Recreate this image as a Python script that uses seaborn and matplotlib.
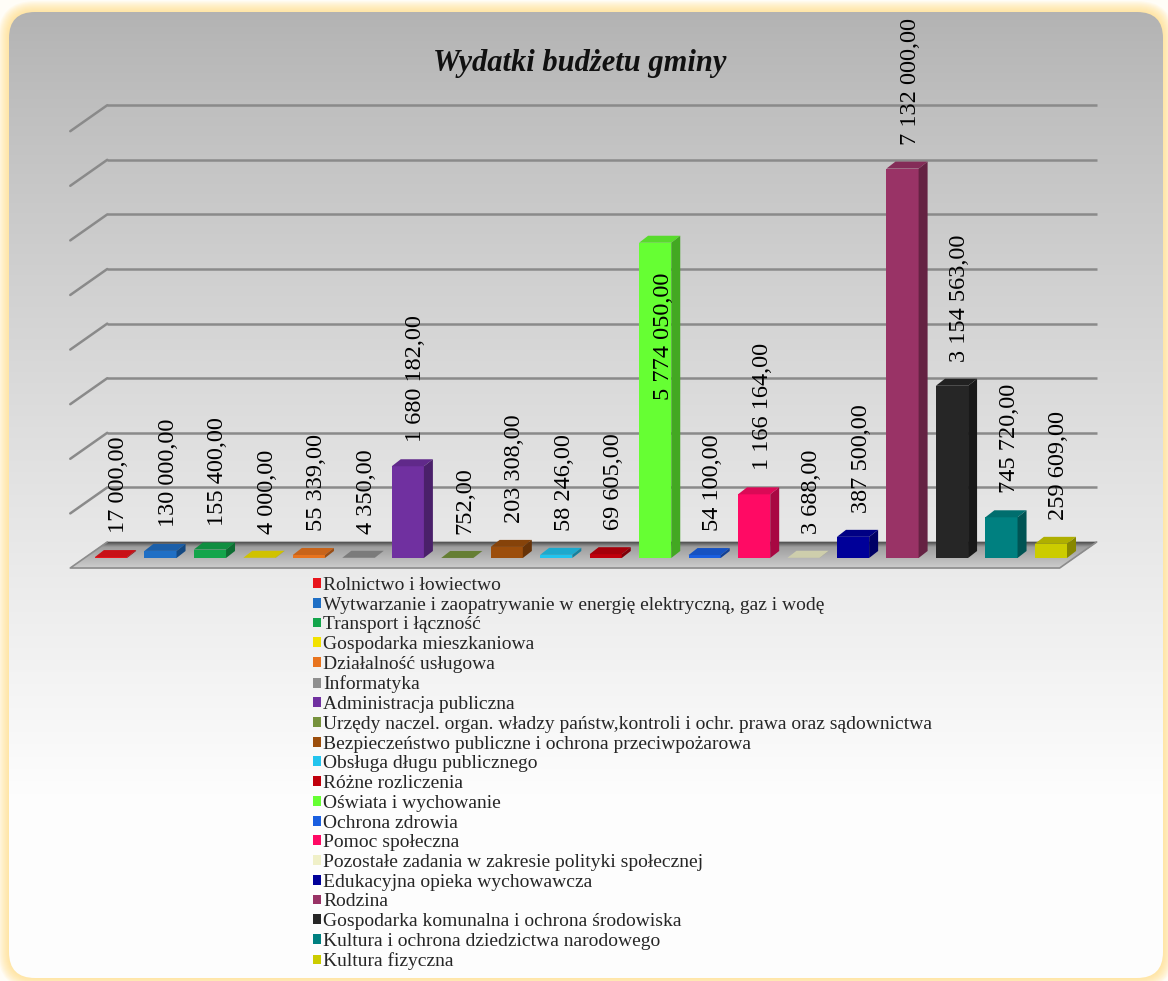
import numpy as np
import pandas as pd
import matplotlib
matplotlib.use("Agg")
import matplotlib.pyplot as plt
from matplotlib.patches import Polygon, FancyBboxPatch
from matplotlib.colors import to_rgb
import seaborn as sns

# --- data -------------------------------------------------------------
categories = [
    "Rolnictwo i łowiectwo",
    "Wytwarzanie i zaopatrywanie w energię elektryczną, gaz i wodę",
    "Transport i łączność",
    "Gospodarka mieszkaniowa",
    "Działalność usługowa",
    "Informatyka",
    "Administracja publiczna",
    "Urzędy naczel. organ. władzy państw,kontroli i ochr. prawa oraz sądownictwa",
    "Bezpieczeństwo publiczne i ochrona przeciwpożarowa",
    "Obsługa długu publicznego",
    "Różne rozliczenia",
    "Oświata i wychowanie",
    "Ochrona zdrowia",
    "Pomoc społeczna",
    "Pozostałe zadania w zakresie polityki społecznej",
    "Edukacyjna opieka wychowawcza",
    "Rodzina",
    "Gospodarka komunalna i ochrona środowiska",
    "Kultura i ochrona dziedzictwa narodowego",
    "Kultura fizyczna",
]
values = [
    17000, 130000, 155400, 4000, 55339, 4350, 1680182, 752, 203308, 58246,
    69605, 5774050, 54100, 1166164, 3688, 387500, 7132000, 3154563, 745720, 259609,
]
colors = [
    "#e8141b", "#1f6fc5", "#13a54b", "#f2e200", "#e8741e",
    "#8f8f8f", "#7030a0", "#76923c", "#9c4e0c", "#22c4ee",
    "#c0000c", "#66ff33", "#1a5fe0", "#ff0a64", "#f0f0c8",
    "#000099", "#993366", "#262626", "#008080", "#cccc00",
]
title = "Wydatki budżetu gminy"
grid_steps = [1e6 * k for k in range(1, 9)]
inside_label = "Oświata i wychowanie"

SERIF = ["Liberation Serif", "DejaVu Serif"]


def fmt_pl(v):
    return f"{v:,.2f}".replace(",", " ").replace(".", ",")


# --- figure geometry (pixels) -----------------------------------------
W, H, DPI = 1168, 981, 100
x0_px, step = 111, 49.47      # first bar centre, bar spacing
base_px, ppm = 558, 54.6      # bar base line, pixels per million
ymax = 8.5e6

sns.set_theme(style="white")
plt.rcParams["font.family"] = SERIF

fig = plt.figure(figsize=(W / DPI, H / DPI), dpi=DPI)
fig.patch.set_facecolor("#fffdf7")

# background card with glow and vertical gradient
bg = fig.add_axes([0, 0, 1, 1], zorder=-10)
bg.set_xlim(0, W)
bg.set_ylim(H, 0)
bg.set_axis_off()
cx0, cy0, cx1, cy1 = 9, 12, 1163, 978
for g in range(11, 0, -1):
    bg.add_patch(FancyBboxPatch((cx0 - g, cy0 - g), cx1 - cx0 + 2 * g, cy1 - cy0 + 2 * g,
                                boxstyle=f"round,pad=0,rounding_size={26 + g}",
                                fc="#ffdc78", ec="none", alpha=0.08, zorder=1))
card = FancyBboxPatch((cx0, cy0), cx1 - cx0, cy1 - cy0,
                      boxstyle="round,pad=0,rounding_size=26", fc="none", ec="none")
bg.add_patch(card)
yy = np.arange(H)
t = np.clip((yy - cy0) / 790, 0, 1)
v = 0.70 + 0.295 * t ** 0.85
grad = np.repeat(v[:, None], 3, axis=1)[:, None, :]
im = bg.imshow(grad, extent=(0, W, H, 0), aspect="auto", interpolation="bilinear",
               zorder=3)
im.set_clip_path(card)
bg.set_xlim(0, W)
bg.set_ylim(H, 0)

# main axes = front plane of the bars
ax = fig.add_axes([(x0_px - step / 2) / W, (H - base_px) / H,
                   20 * step / W, ymax / 1e6 * ppm / H])
ax.patch.set_alpha(0)

df = pd.DataFrame({"kategoria": categories, "kwota": values})
sns.barplot(data=df, x="kategoria", y="kwota", hue="kategoria",
            palette=dict(zip(categories, colors)), width=0.65, saturation=1,
            legend=True, ax=ax, zorder=4, edgecolor="none", linewidth=0)
ax.set_xlim(-0.5, 19.5)
ax.set_ylim(0, ymax)
ax.set_axis_off()
bars = sorted([p for cont in ax.containers for p in cont.patches],
              key=lambda p: p.get_x())


def px(dx, dy):
    # pixel offset -> data offset
    return dx / step, dy / ppm * 1e6


def shade(c, f):
    r, g, b = to_rgb(c)
    return (r * f, g * f, b * f)


back = px(21, 16)
front = px(-16, -10)
xl, xr = -0.5, 19.5

# back wall gridlines and left wall diagonals
for yv in grid_steps:
    ax.plot([xl + back[0], xr + back[0]], [yv + back[1]] * 2, color="#8a8a8a",
            lw=1.8, zorder=1, clip_on=False, solid_capstyle="butt")
    ax.plot([xl + front[0], xl + back[0]], [yv + front[1], yv + back[1]],
            color="#8a8a8a", lw=1.8, zorder=1, clip_on=False)

# floor drawn as bands from back (dark) to front (light)
n_bands = 26
fvals = np.linspace(0, 1, n_bands + 1)
for f0, f1 in zip(fvals[:-1], fvals[1:]):
    fm = (f0 + f1) / 2
    if fm < 0.2:
        c = 0.28 + (0.62 - 0.28) * fm / 0.2
    else:
        c = 0.62 + (0.80 - 0.62) * (fm - 0.2) / 0.8
    o0 = (back[0] + (front[0] - back[0]) * f0, back[1] + (front[1] - back[1]) * f0)
    o1 = (back[0] + (front[0] - back[0]) * f1, back[1] + (front[1] - back[1]) * f1)
    ax.add_patch(Polygon([(xl + o0[0], o0[1]), (xr + o0[0], o0[1]),
                          (xr + o1[0], o1[1]), (xl + o1[0], o1[1])],
                         closed=True, fc=(c, c, c), ec=(c, c, c), lw=0.5,
                         zorder=2, clip_on=False))
ax.plot([xl + back[0], xl + front[0], xr + front[0], xr + back[0]],
        [back[1], front[1], front[1], back[1]], color="#8c8c8c", lw=1.2,
        zorder=2.5, clip_on=False)

# 3D faces of the bars
ddx, ddy = px(9, 7)
for bar in bars:
    x0 = bar.get_x()
    x1 = x0 + bar.get_width()
    h = bar.get_height()
    fc = bar.get_facecolor()
    bar.set_zorder(4)
    bar.set_clip_on(False)
    ax.add_patch(Polygon([(x0, h), (x1, h), (x1 + ddx, h + ddy), (x0 + ddx, h + ddy)],
                         closed=True, fc=shade(fc, 0.86), ec="none", zorder=4,
                         clip_on=False))
    ax.add_patch(Polygon([(x1, 0), (x1 + ddx, ddy), (x1 + ddx, h + ddy), (x1, h)],
                         closed=True, fc=shade(fc, 0.66), ec="none", zorder=4,
                         clip_on=False))

# value labels
lab_dx, lab_gap = px(8, 24)
_, inside_gap = px(0, 30)
for bar, cat, val in zip(bars, categories, values):
    xc = bar.get_x() + bar.get_width() / 2 + lab_dx
    if cat == inside_label:
        ax.text(xc, val - inside_gap, fmt_pl(val), rotation=90, ha="center",
                va="top", fontsize=17.5, family=SERIF, color="black", zorder=6,
                clip_on=False)
    else:
        ax.text(xc, val + lab_gap, fmt_pl(val), rotation=90, ha="center",
                va="bottom", fontsize=17.5, family=SERIF, color="black", zorder=6,
                clip_on=False)

fig.text(580 / W, 1 - 63 / H, title, ha="center", va="center", fontsize=22,
         family=SERIF, fontweight="bold", fontstyle="italic", color="#111111")

sns.move_legend(ax, "upper left", bbox_to_anchor=(313 / W, 1 - 577 / H),
                bbox_transform=fig.transFigure, frameon=False, title=None,
                prop={"family": SERIF, "size": 14},
                handlelength=0.41, handleheight=0.41,
                handletextpad=0.12, labelspacing=0.14, borderpad=0,
                borderaxespad=0)

fig.savefig("out.png", dpi=DPI)
